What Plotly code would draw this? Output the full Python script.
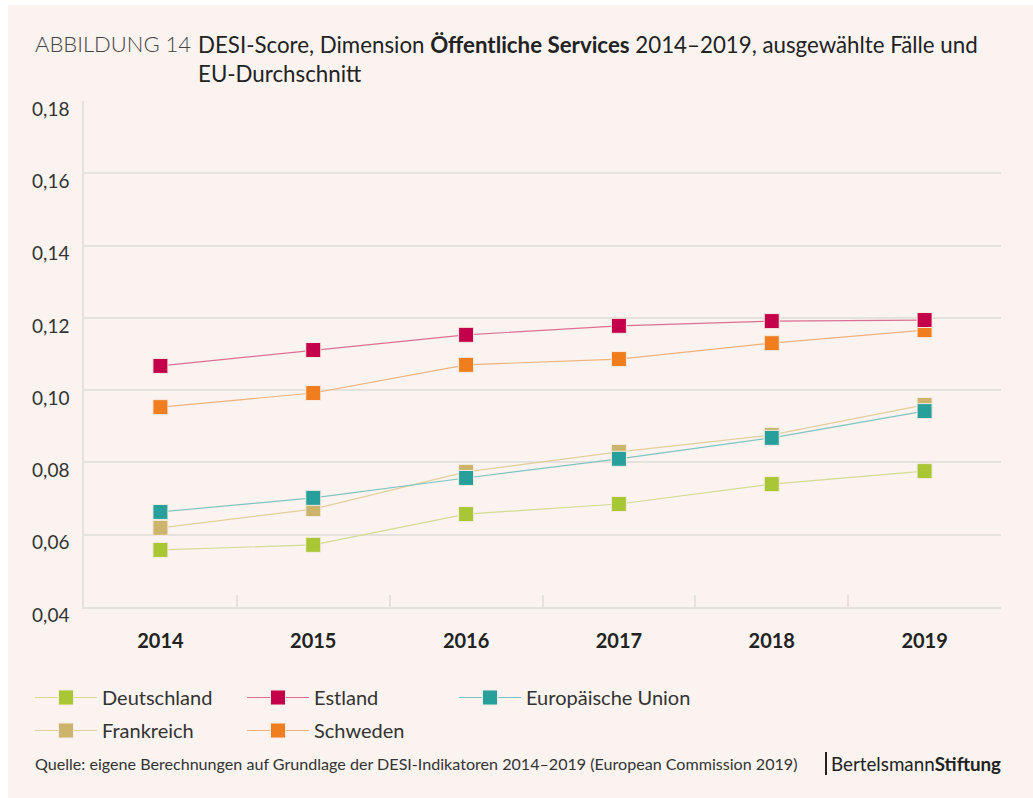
import plotly.graph_objects as go

years = ["2014", "2015", "2016", "2017", "2018", "2019"]
deutschland = [0.0558, 0.0572, 0.0657, 0.0685, 0.0740, 0.0776]
estland = [0.1067, 0.1111, 0.1153, 0.1178, 0.1191, 0.1194]
eu = [0.0663, 0.0702, 0.0757, 0.0810, 0.0868, 0.0942]
frankreich = [0.0619, 0.0671, 0.0774, 0.0829, 0.0876, 0.0959]
schweden = [0.0953, 0.0992, 0.1070, 0.1086, 0.1130, 0.1166]
y_ticks = [0.04, 0.06, 0.08, 0.10, 0.12, 0.14, 0.16, 0.18]

W, H = 1033, 798
L, R, T, B = 84, 32, 101, 191
PW, PH = W - L - R, H - T - B

def px(x):
    return (x - L) / PW

def py(y):
    return (H - B - y) / PH

FONT = "Lato, 'Open Sans', sans-serif"
BG = "#faf3ef"
GRID = "#e5e1dc"

# draw order: Frankreich under EU, Schweden under Estland
# (name, values, marker colour, line colour, legend, rank)
series = [
    ("Deutschland", deutschland, "#a9c634", "#d3db95", "legend", 1),
    ("Frankreich", frankreich, "#cdb46c", "#e2cf9d", "legend2", 4),
    ("Schweden", schweden, "#f07e1e", "#f0b27e", "legend2", 5),
    ("Europäische Union", eu, "#27a09b", "#82c4c0", "legend3", 3),
    ("Estland", estland, "#c5004b", "#db6f93", "legend", 2),
]

fig = go.Figure()
for name, vals, col, lcol, leg, rank in series:
    fig.add_trace(go.Scatter(
        x=years, y=vals, name=name, mode="lines+markers",
        line=dict(color=lcol, width=1.2),
        marker=dict(symbol="square", size=15, color=col,
                    line=dict(color="#f6ebe3", width=1)),
        legend=leg, legendrank=rank,
    ))

# card background with thin white edge at left and top
fig.add_shape(type="rect", xref="paper", yref="paper", layer="below",
              x0=px(8), x1=px(W + 5), y0=py(H + 5), y1=py(5),
              fillcolor=BG, line=dict(width=0))

fig.add_annotation(xref="paper", yref="paper", x=px(33), y=py(44),
                   xanchor="left", yanchor="middle", showarrow=False,
                   text="ABBILDUNG 14",
                   font=dict(family=FONT, size=22, color="#444444", weight=300))
fig.add_annotation(xref="paper", yref="paper", x=px(196), y=py(29),
                   xanchor="left", yanchor="top", showarrow=False, align="left",
                   text="DESI-Score, Dimension <b>Öffentliche Services</b> 2014–2019, ausgewählte Fälle und<br>EU-Durchschnitt",
                   font=dict(family=FONT, size=22.3, color="#222222"))
fig.add_annotation(xref="paper", yref="paper", x=px(33), y=py(763),
                   xanchor="left", yanchor="middle", showarrow=False,
                   text="Quelle: eigene Berechnungen auf Grundlage der DESI-Indikatoren 2014–2019 (European Commission 2019)",
                   font=dict(family=FONT, size=16.1, color="#333333"))
fig.add_annotation(xref="paper", yref="paper", x=px(1003), y=py(763),
                   xanchor="right", yanchor="middle", showarrow=False,
                   text="Bertelsmann<b>Stiftung</b>",
                   font=dict(family=FONT, size=18.8, color="#222222"))
fig.add_shape(type="line", xref="paper", yref="paper",
              x0=px(826), x1=px(826), y0=py(752), y1=py(775),
              line=dict(color="#222222", width=2))

legend_style = dict(orientation="h", xanchor="left", yanchor="top",
                    entrywidthmode="pixels", itemwidth=62,
                    font=dict(family=FONT, size=20, color="#333333"),
                    bgcolor="rgba(0,0,0,0)", traceorder="normal")

fig.update_layout(
    width=W, height=H,
    margin=dict(l=L, r=R, t=T, b=B),
    paper_bgcolor="white", plot_bgcolor="rgba(0,0,0,0)",
    separators=",.",
    font=dict(family=FONT, color="#333333"),
    showlegend=True,
    legend=dict(x=px(30), y=py(678), entrywidth=135, **legend_style),
    legend2=dict(x=px(30), y=py(711), entrywidth=135, **legend_style),
    legend3=dict(x=px(454), y=py(678), entrywidth=220, **legend_style),
    xaxis=dict(type="category", range=[-0.5, 5.5], tickson="boundaries",
               ticks="inside", ticklen=12,
               tickcolor=GRID, tickwidth=1.5, showgrid=False,
               showline=True, linecolor=GRID, linewidth=1.5, mirror=False,
               tickfont=dict(family=FONT, size=20, color="#222222", weight="bold"),
               ticklabelstandoff=15, fixedrange=True),
    yaxis=dict(range=[0.04, 0.18], tickvals=y_ticks, tickformat=".2f",
               showgrid=True, gridcolor=GRID, gridwidth=1.5,
               showline=True, linecolor=GRID, linewidth=1.5, zeroline=False,
               ticks="", ticklabelshift=8, ticklabelstandoff=9,
               tickfont=dict(family=FONT, size=19, color="#333333"),
               fixedrange=True),
)

fig.write_html("out.html", config={"displayModeBar": False},
               post_script="document.body.style.margin='0px';")
